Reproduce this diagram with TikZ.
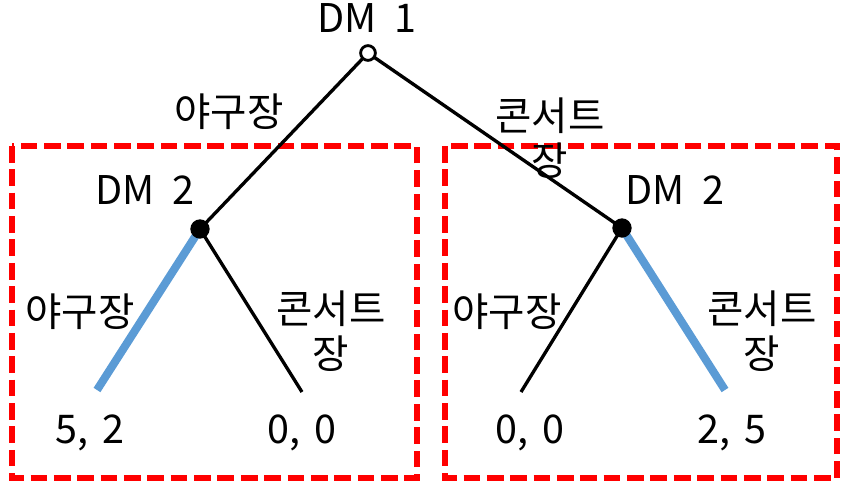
\documentclass[tikz,border=0pt]{standalone}
\usepackage{fontspec}
\setmainfont{Noto Sans CJK KR}

\tikzset{
  rootdot/.style={circle, draw, fill=white, line width=1.6pt, inner sep=0pt, minimum size=8.4pt},
  dmdot/.style={circle, fill=black, inner sep=0pt, minimum size=11pt},
  branch/.style={line width=1.9pt},
  chosen/.style={line width=4.6pt, draw=choiceblue},
  lbl/.style={font=\fontsize{22.5}{26}\selectfont, align=center, inner sep=0pt},
  subgame/.style={draw=red, line width=3.1pt, dash pattern=on 9.5pt off 3.8pt}
}
\definecolor{choiceblue}{RGB}{91,155,213}
\newcommand{\dmsp}{\hspace{0.45em}}
\newcommand{\paysp}{\hspace{0.35em}}

\begin{document}
\begin{tikzpicture}[x=0.02cm, y=-0.02cm]
\useasboundingbox (0,0) rectangle (850,491);
% subgames
\draw[subgame] (12,146) rectangle (417,478);
\draw[subgame] (445,146) rectangle (837,478);
% decision nodes
\coordinate (lA) at (97,390);
\coordinate (lB) at (302,392);
\coordinate (rA) at (521,392);
\coordinate (rB) at (725,390);
\draw[branch] (368,53) coordinate (r0) -- (200,229) coordinate (d1);
\draw[branch] (r0) -- (622,228) coordinate (d2);
\draw[chosen] (d1) -- (lA);
\draw[branch] (d1) -- (lB);
\draw[branch] (d2) -- (rA);
\draw[chosen] (d2) -- (rB);
\node[rootdot] (root) at (r0) {};
\node[dmdot] (dmL) at (d1) {};
\node[dmdot] (dmR) at (d2) {};
% labels
\node[lbl] (tRoot) at (367,18) {DM\dmsp1};
\node[lbl] (tL) at (145,190) {DM\dmsp2};
\node[lbl] (tR) at (675,190) {DM\dmsp2};
\node[lbl] (aL) at (229,112) {야구장};
\node[lbl] (aR) at (550,138) {콘서트\\장};
\node[lbl] (bLL) at (80,312) {야구장};
\node[lbl] (bLR) at (331,331) {콘서트\\장};
\node[lbl] (bRL) at (507,312) {야구장};
\node[lbl] (bRR) at (762,331) {콘서트\\장};
% payoffs
\node[lbl] (pLL) at (90,433) {5,\paysp2};
\node[lbl] (pLR) at (302,433) {0,\paysp0};
\node[lbl] (pRL) at (530,433) {0,\paysp0};
\node[lbl] (pRR) at (732,433) {2,\paysp5};
\end{tikzpicture}
\end{document}
